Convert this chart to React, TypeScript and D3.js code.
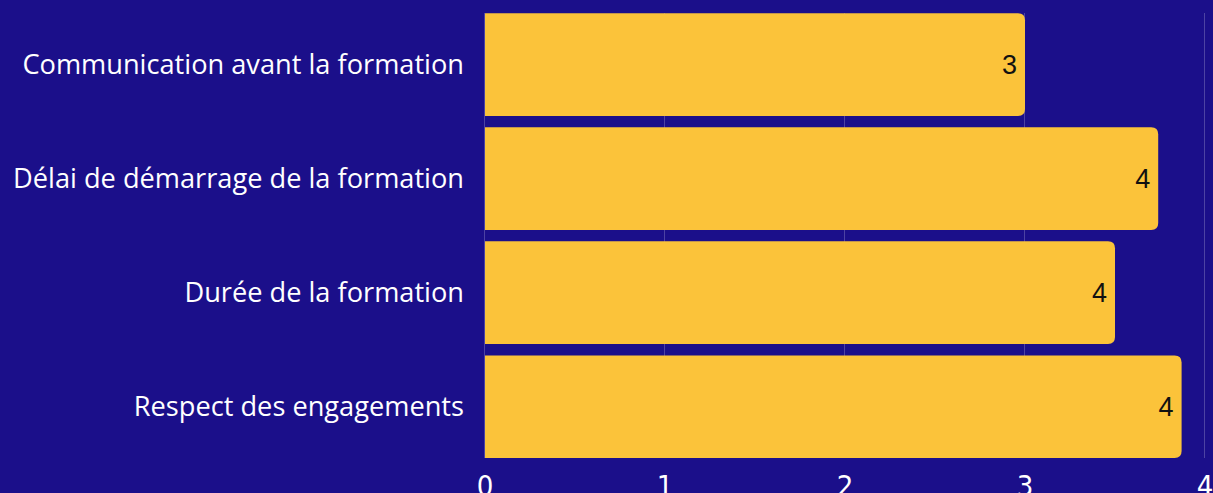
import React from "react";
import * as d3 from "d3";

const categories = [
  "Communication avant la formation",
  "Délai de démarrage de la formation",
  "Durée de la formation",
  "Respect des engagements",
];
const values = [3.0, 3.74, 3.5, 3.87];
const xTicks = [0, 1, 2, 3, 4];

const W = 1213;
const H = 493;
const BG = "#1b0f8a";
const BAR = "#fbc33a";

function barPath(x0: number, x1: number, y0: number, h: number, r: number) {
  const w = x1 - x0;
  const rr = Math.min(r, w, h / 2);
  return `M${x0},${y0}H${x1 - rr}Q${x1},${y0} ${x1},${y0 + rr}V${y0 + h - rr}Q${x1},${y0 + h} ${x1 - rr},${y0 + h}H${x0}Z`;
}

export default function App() {
  const x = d3.scaleLinear().domain([0, 4]).range([485, 1205]);
  const y = d3
    .scaleBand<string>()
    .domain(categories)
    .range([13.3, 458])
    .paddingInner(0.1)
    .paddingOuter(0);

  return (
    <svg
      width={W}
      height={H}
      style={{ position: "absolute", left: 0, top: 0, display: "block" }}
    >
      <rect x={0} y={0} width={W} height={H} fill={BG} />
      {xTicks.map((t) => (
        <line
          key={"g" + t}
          x1={x(t) - 0.5}
          x2={x(t) - 0.5}
          y1={13}
          y2={458}
          stroke="rgba(255,255,255,0.22)"
          strokeWidth={1}
        />
      ))}
      {categories.map((c, i) => {
        const y0 = y(c)!;
        const h = y.bandwidth();
        return (
          <g key={c}>
            <path d={barPath(x(0), x(values[i]), y0, h, 7)} fill={BAR} />
            <text
              x={x(values[i]) - 8}
              y={y0 + h / 2}
              dy="0.36em"
              textAnchor="end"
              fill="#111"
              fontFamily="'Liberation Sans', Arial, sans-serif"
              fontSize={27}
            >
              {d3.format(".0f")(values[i])}
            </text>
            <text
              x={464}
              y={y0 + h / 2}
              dy="0.36em"
              textAnchor="end"
              fill="#ffffff"
              fontFamily="'Open Sans', sans-serif"
              fontSize={27.2}
              style={{ fontVariantLigatures: "none" }}
            >
              {c}
            </text>
          </g>
        );
      })}
      {xTicks.map((t) => (
        <text
          key={"t" + t}
          x={x(t)}
          y={493}
          dy="0.1em"
          textAnchor="middle"
          fill="#ffffff"
          fontFamily="'Liberation Sans Narrow', 'DejaVu Sans Condensed', sans-serif"
          fontSize={29}
        >
          {t}
        </text>
      ))}
    </svg>
  );
}
